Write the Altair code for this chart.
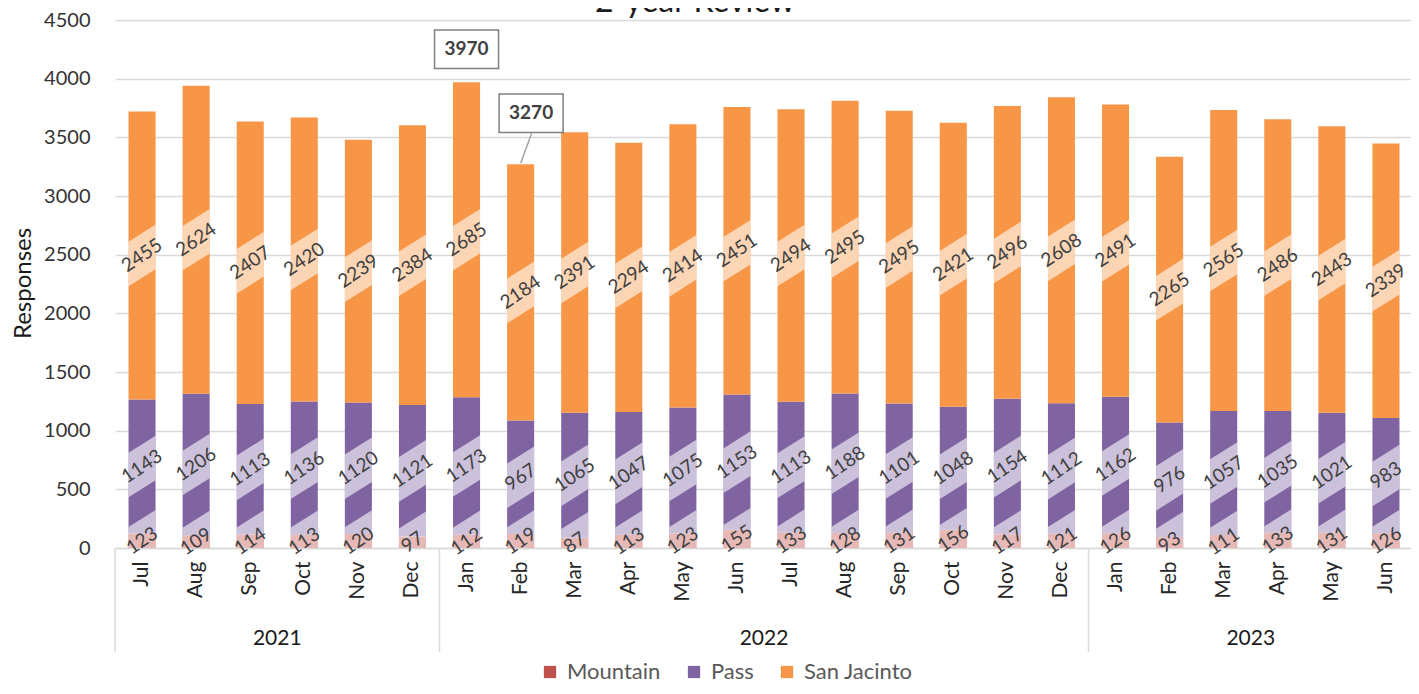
import altair as alt
import pandas as pd

# ---------------- data ----------------
months = ["Jul", "Aug", "Sep", "Oct", "Nov", "Dec",
          "Jan", "Feb", "Mar", "Apr", "May", "Jun", "Jul", "Aug", "Sep", "Oct", "Nov", "Dec",
          "Jan", "Feb", "Mar", "Apr", "May", "Jun"]
years = ["2021"] * 6 + ["2022"] * 12 + ["2023"] * 6
series = ["Mountain", "Pass", "San Jacinto"]
mountain = [123, 109, 114, 113, 120, 97, 112, 119, 87, 113, 123, 155, 133, 128, 131, 156, 117, 121,
            126, 93, 111, 133, 131, 126]
pass_ = [1143, 1206, 1113, 1136, 1120, 1121, 1173, 967, 1065, 1047, 1075, 1153, 1113, 1188, 1101,
         1048, 1154, 1112, 1162, 976, 1057, 1035, 1021, 983]
san_jacinto = [2455, 2624, 2407, 2420, 2239, 2384, 2685, 2184, 2391, 2294, 2414, 2451, 2494, 2495,
               2495, 2421, 2496, 2608, 2491, 2265, 2565, 2486, 2443, 2339]
colors = ["#C0504D", "#8064A2", "#F79646"]
title_text = "2-year Review"
y_title = "Responses"

rows = []
for i, (m, yr) in enumerate(zip(months, years)):
    key = f"{m} {yr}"
    for s_i, (s, vals) in enumerate(zip(series, [mountain, pass_, san_jacinto])):
        rows.append({"key": key, "month": m, "year": yr, "idx": i, "series": s,
                     "order": s_i, "value": vals[i]})
df = pd.DataFrame(rows)
keys = [f"{m} {y}" for m, y in zip(months, years)]

year_rows = []
for yr in dict.fromkeys(years):
    ids = [i for i, y in enumerate(years) if y == yr]
    year_rows.append({"year": yr, "start": ids[0], "end": ids[-1] + 1,
                      "mid": (ids[0] + ids[-1] + 1) / 2})
ydf = pd.DataFrame(year_rows)

# ---------------- layout ----------------
FONT = "Lato"
W, H = 1296, 528
XRANGE = [0, 1298]
BW = 1298 / 24 / 2
ydom = [0, 4500]

xband = alt.X("key:N", sort=keys,
              scale=alt.Scale(paddingInner=0.5, paddingOuter=0.25, range=XRANGE),
              axis=alt.Axis(title=None, labelExpr="split(datum.value, ' ')[0]", labelAngle=270,
                            labelAlign="right", labelBaseline="middle",
                            labelFontSize=21, labelFont=FONT, labelColor="#262626",
                            labelPadding=13, ticks=False, domainColor="#D9D9D9",
                            domainWidth=1.3, grid=False))
yenc = lambda f: alt.Y(f, scale=alt.Scale(domain=ydom),
                       axis=alt.Axis(values=list(range(0, 4501, 500)), format="d",
                                     title=y_title,
                                     titleFont=FONT, titleFontSize=24, titleFontWeight="normal",
                                     titleColor="#1a1a1a", titleX=-92, titleY=263,
                                     titleAngle=270, titleAlign="center", titleBaseline="middle",
                                     labelFont=FONT, labelFontSize=20, labelColor="#333333",
                                     labelPadding=25, ticks=False, domain=False,
                                     gridColor="#D9D9D9", gridWidth=1.3))

base = alt.Chart(df).transform_stack(
    stack="value", groupby=["key"], as_=["y0", "y1"], sort=[{"field": "order"}]
).transform_calculate(mid="(datum.y0 + datum.y1) / 2")

bars = base.mark_bar().encode(
    x=xband,
    y=yenc("y0:Q"),
    y2="y1:Q",
    color=alt.Color("series:N", scale=alt.Scale(domain=series, range=colors),
                    legend=alt.Legend(title=None, orient="none", direction="horizontal",
                                      legendX=424, legendY=641, symbolType="square",
                                      symbolSize=150, symbolStrokeWidth=0,
                                      labelFont=FONT, labelFontSize=22, labelColor="#595959",
                                      labelOffset=6, columnPadding=22)),
)

BAND_PATH = "M-1,-1.02L1,-2.28L1,1.02L-1,2.28Z"
bands = base.mark_point(shape=BAND_PATH, filled=True, color="white", opacity=0.6,
                        size=BW ** 2, strokeWidth=0, clip=True).encode(
    x=alt.X("key:N", sort=keys), y=alt.Y("mid:Q", scale=alt.Scale(domain=ydom)))

labels = base.mark_text(angle=326, font=FONT, fontSize=19, color="#404040",
                        align="center", baseline="middle").encode(
    x=alt.X("key:N", sort=keys), y=alt.Y("mid:Q", scale=alt.Scale(domain=ydom)),
    text="value:Q")

totals = alt.Chart(df).transform_aggregate(
    total="sum(value)", groupby=["key", "idx"]
).transform_joinaggregate(tmax="max(total)", tmin="min(total)")

BOX = "M -1 -0.6 L 1 -0.6 L 1 0.6 L -1 0.6 Z"
max_t = totals.transform_filter("datum.total == datum.tmax")
min_t = totals.transform_filter("datum.total == datum.tmin")

def callout(src, dx, dy):
    box = src.mark_point(shape=BOX, filled=True, fill="white", stroke="#7F7F7F",
                         strokeWidth=1.5, opacity=1, size=4096,
                         xOffset=dx, yOffset=dy).encode(
        x=alt.X("key:N", sort=keys), y=alt.Y("total:Q", scale=alt.Scale(domain=ydom)))
    txt = src.mark_text(font=FONT, fontSize=19, fontWeight="bold", color="#404040",
                        xOffset=dx, yOffset=dy, align="center", baseline="middle").encode(
        x=alt.X("key:N", sort=keys), y=alt.Y("total:Q", scale=alt.Scale(domain=ydom)),
        text="total:Q")
    return box + txt

xq = lambda f: alt.X(f, scale=alt.Scale(domain=[0, 24], range=XRANGE), axis=None)

leader = min_t.transform_calculate(c="datum.idx + 0.5").mark_rule(
    color="#A6A6A6", strokeWidth=1.5, yOffset=-1, x2Offset=11, y2Offset=-31
).encode(x=xq("c:Q"), x2="c:Q", y=alt.Y("total:Q", scale=alt.Scale(domain=ydom)), y2="total:Q")

seps = alt.Chart(ydf).mark_rule(color="#D9D9D9", strokeWidth=1.5).encode(
    x=xq("start:Q"), y=alt.value(H), y2=alt.value(H + 104))
year_lbl = alt.Chart(ydf).mark_text(font=FONT, fontSize=21, color="#1a1a1a",
                                    baseline="middle").encode(
    x=xq("mid:Q"), y=alt.value(H + 91), text="year:N")

title = alt.Chart(pd.DataFrame({"t": [title_text]})).mark_text(
    font=FONT, fontSize=32, color="#1a1a1a", baseline="alphabetic", align="center"
).encode(x=alt.value(580), y=alt.value(-8), text="t:N")

chart = alt.layer(
    alt.layer(bars, bands, labels, callout(max_t, 0, -33), callout(min_t, 10.5, -51)),
    alt.layer(seps, year_lbl, leader, title),
).resolve_scale(x="independent").properties(
    width=W, height=H,
    autosize=alt.AutoSizeParams(type="none"),
    padding={"left": 107, "top": 12, "right": 0, "bottom": 136},
).configure_view(stroke=None)

chart.save("out.html", embed_options={"renderer": "svg", "actions": False})
